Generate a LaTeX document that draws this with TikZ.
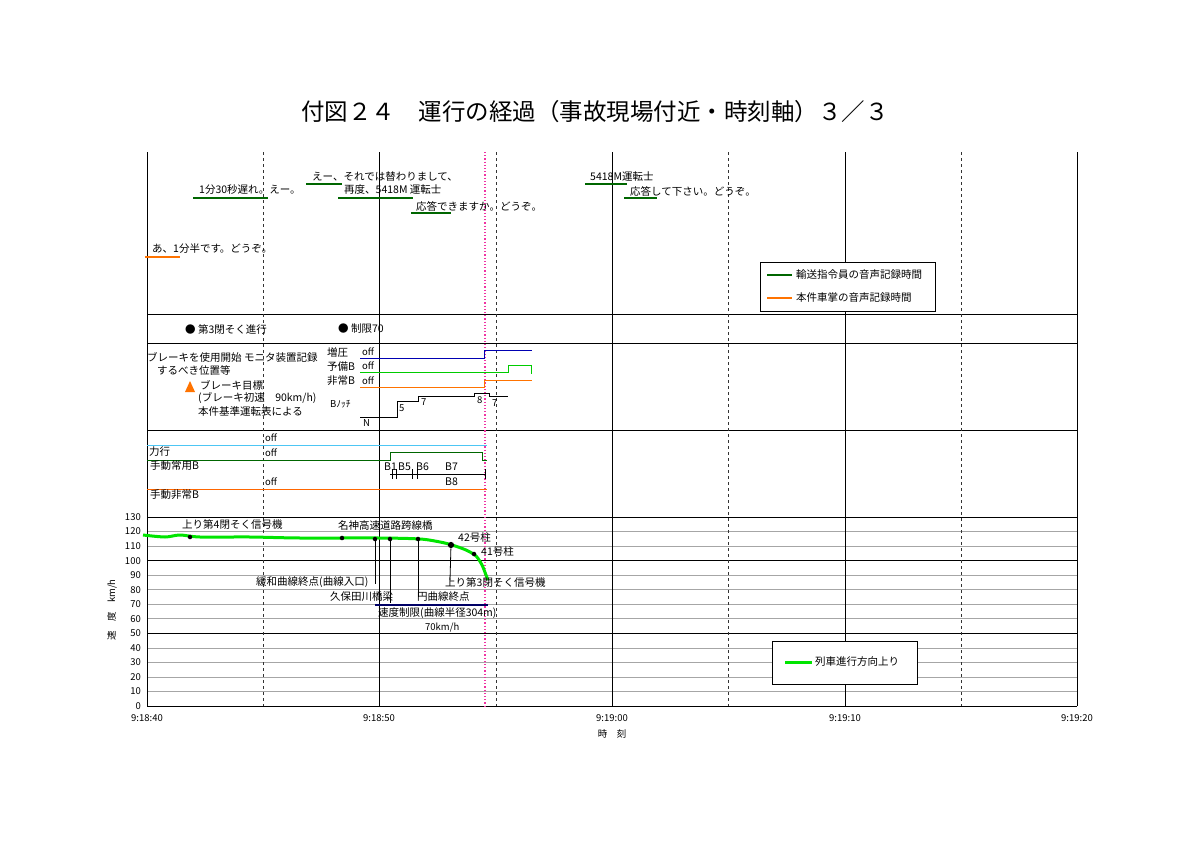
\documentclass[tikz,border=0pt]{standalone}
\usepackage{fontspec}
\setmainfont{Noto Sans CJK JP}
\begin{document}
\begin{tikzpicture}[x=1pt,y=-1pt,
 t/.style={anchor=west,inner sep=0pt,font=\fontsize{10.5}{11}\selectfont},
 s/.style={font=\fontsize{9.5}{10}\selectfont},
 grid/.style={gray!70,line width=0.6pt},
 major/.style={black,line width=1pt},
 dsh/.style={dashed,gray!40!black,line width=0.7pt},
 gu/.style={green!40!black,line width=2.2pt},
 ou/.style={orange!90!red,line width=2.2pt},
 dot/.style={circle,fill,inner sep=1.6pt}]
\useasboundingbox (0,0) rectangle (1200,851);
\node (title) at (595,112) {\fontsize{23.5}{26}\selectfont 付図２４　運行の経過（事故現場付近・時刻軸）３／３};
% speed grid
\foreach \v in {0,10,...,130}{
  \pgfmathsetmacro\yy{706-1.4538*\v}
  \draw[grid] (147,\yy) -- (1077,\yy);
  \node[anchor=east,inner sep=0pt,font=\fontsize{9.5}{10}\selectfont] at (141,\yy) {\v};}
\foreach \v in {0,50,100,130}{\pgfmathsetmacro\yy{706-1.4538*\v}\draw[major] (147,\yy) -- (1077,\yy);}
\foreach \y in {314,343,430}{\draw[major] (147,\y) -- (1077,\y);}
\foreach \x in {263,496,728,961}{\draw[dsh] (\x,152) -- (\x,706);}
\foreach \x in {147,379,612,845,1077}{\draw[major] (\x,152) -- (\x,706);}
\draw[magenta!80,dotted,line width=1.2pt] (485,152) -- (485,706);
\foreach \x/\l in {147/9:18:40,379/9:18:50,612/9:19:00,845/9:19:10,1077/9:19:20}
  \node[s] at (\x,718) {\l};
\node[s] at (612,734) {時　刻};
\node[rotate=90,s] at (112,610) {速　度　km/h};
% top section
\draw[gu] (193,198)--(268,198); \node[t] at (199,190) {1分30秒遅れ。えー。};
\draw[gu] (306,184)--(342,184); \node[t] at (312,177) {えー、それでは替わりまして、};
\draw[gu] (338,198)--(413,198); \node[t] at (344,190) {再度、5418M 運転士};
\draw[gu] (411,213)--(451,213); \node[t] at (416,206) {応答できますか。どうぞ。};
\draw[gu] (585,184)--(627,184); \node[t] at (590,177) {5418M運転士};
\draw[gu] (624,198)--(657,198); \node[t] at (630,191) {応答して下さい。どうぞ。};
\draw[ou] (145,257)--(180,257); \node[t] at (152,249) {あ、1分半です。どうぞ。};
\node[draw,fill=white,minimum width=175pt,minimum height=49pt,anchor=north west] (lg1) at (760,262) {};
\draw[gu] (767,275)--(792,275); \node[t] at (796,275) {輸送指令員の音声記録時間};
\draw[ou] (767,298)--(792,298); \node[t] at (796,298) {本件車掌の音声記録時間};
% row 2
\node[t] at (185,329) {●\ 第3閉そく進行};
\node[t] at (338,329) {●\ 制限70};
% brake section
\node[t] at (147,357) {ブレーキを使用開始 モニタ装置記録};
\node[t] at (157,370) {するべき位置等};
\fill[orange!90!red] (185,392)--(195,392)--(190,381)--cycle;
\node[t] at (200,385) {ブレーキ目標};
\node[t] at (198,398) {(ブレーキ初速　90km/h)};
\node[t] at (198,411) {本件基準運転表による};
\node[t] at (327,352) {増圧}; \node[t] at (327,367) {予備B}; \node[t] at (327,381) {非常B};
\node[t,s] at (330,404) {Bﾉｯﾁ};
\foreach \y in {352,366,381}{\node[t,s] at (362,\y) {off};}
\draw[blue!70!black,line width=0.8pt] (360,358)--(484,358)--(484,350)--(532,350);
\draw[green!80!black,line width=0.8pt] (360,372)--(508,372)--(508,365)--(531,365)--(531,374);
\draw[orange!90!red,line width=0.8pt] (360,387)--(484,387)--(484,380)--(532,380);
\draw[line width=0.8pt] (360,417)--(397,417)--(397,401)--(418,401)--(418,396)--(474,396)--(474,393)--(489,393)--(489,396)--(508,396);
\node[t,s] at (399,408) {5};
\node[t,s] at (421,402) {7};
\node[t,s] at (477,400) {8};
\node[t,s] at (492,403) {7};
\node[t,s] at (363,423) {N};
% section 4
\draw[cyan!70,line width=0.9pt] (147,445)--(487,445);
\draw[green!40!black,line width=0.9pt] (147,460)--(390,460)--(390,452)--(482,452)--(482,460)--(487,460);
\draw[orange!80!red,line width=0.9pt] (147,489)--(487,489);
\node[t,s] at (265,438) {off};
\node[t,s] at (265,453) {off};
\node[t,s] at (265,482) {off};
\node[t] at (149,452) {力行};
\node[t] at (150,466) {手動常用B};
\node[t] at (150,495) {手動非常B};
\node[t] at (384,467) {B1}; \node[t] at (398,467) {B5}; \node[t] at (416,467) {B6}; \node[t] at (445,467) {B7};
\node[t] at (445,482) {B8};
\draw[line width=0.8pt] (390,474)--(486,474);
\foreach \x in {392,396,412,417,485}{\draw[line width=0.8pt] (\x,469)--(\x,479);}
% speed curve
\draw[green!90!black,line width=3pt,line join=round] plot[smooth] coordinates {(143,535)(165,537)(180,535)(200,537)(250,537)(300,538)(379,538)(420,539)(440,542)(452,545)(466,550)(476,556)(482,565)(486,575)(488,580)};
\node[dot] (d1) at (190,537) {}; \node[t] at (182,524) {上り第4閉そく信号機};
\node[dot] (d2) at (342,538) {}; \node[t] at (338,526) {名神高速道路跨線橋};
\node[dot] (d3) at (375,539) {}; \node[dot] (d4) at (390,539) {}; \node[dot] (d5) at (418,539) {};
\node[dot,inner sep=2.2pt] (d6) at (451,545) {}; \node[dot] (d7) at (474,554) {};
\draw[line width=0.8pt] (d3)--(375,584); \draw[line width=0.8pt] (d4)--(390,603);
\draw[line width=0.8pt] (d5)--(418,597); \draw[line width=0.8pt] (d6)--(450,580);
\node[t] at (458,538) {42号柱}; \node[t] at (481,552) {41号柱};
\node[t] at (256,582) {緩和曲線終点(曲線入口)};
\node[t] at (445,582) {上り第3閉そく信号機};
\node[t] at (330,597) {久保田川橋梁};
\node[t] at (417,597) {円曲線終点};
\draw[blue!40!black,line width=2.2pt] (375,605)--(488,605);
\node[t] at (378,613) {速度制限(曲線半径304m)};
\node[t,s] at (425,628) {70km/h};
\node[draw,fill=white,minimum width=145pt,minimum height=43pt,anchor=north west] (lg2) at (772,641) {};
\draw[green!90!black,line width=3pt] (785,662)--(812,662); \node[t] at (815,662) {列車進行方向上り};
\end{tikzpicture}
\end{document}
